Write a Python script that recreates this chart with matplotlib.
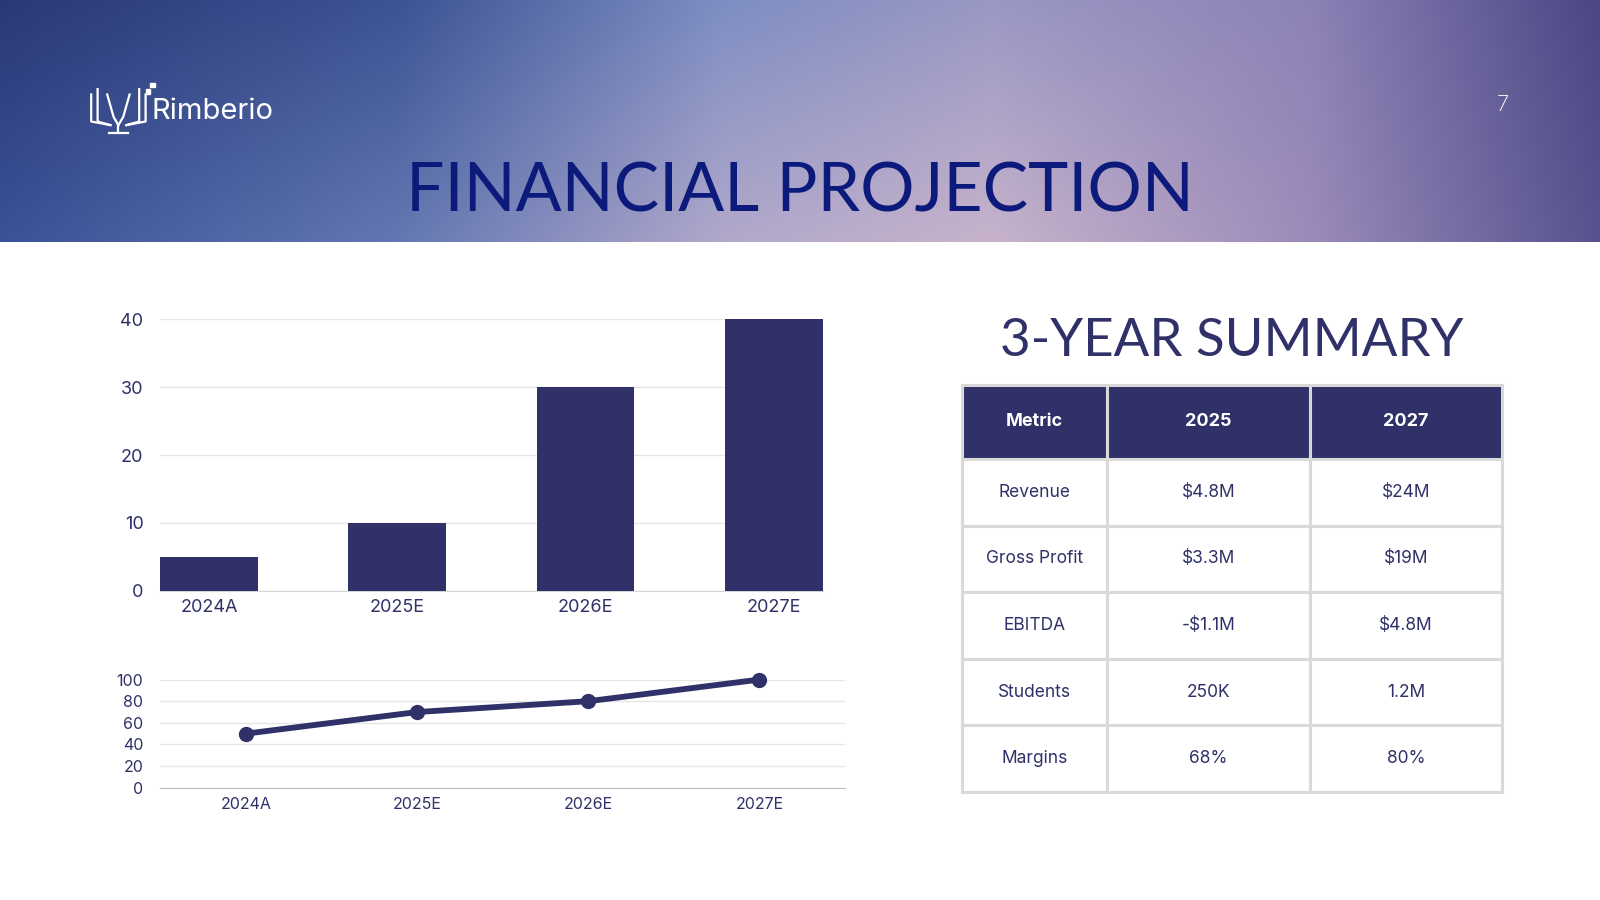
import numpy as np
import matplotlib
matplotlib.use("Agg")
import matplotlib.pyplot as plt
from matplotlib.colors import to_rgb

# data
years_bar = ["2024A", "2025E", "2026E", "2027E"]
bar_values = [5, 10, 30, 40]
years_line = ["2024A", "2025E", "2026E", "2027E"]
line_values = [50, 70, 80, 100]

table_header = ["Metric", "2025", "2027"]
table_metrics = ["Revenue", "Gross Profit", "EBITDA", "Students", "Margins"]
table_2025 = ["$4.8M", "$3.3M", "-$1.1M", "250K", "68%"]
table_2027 = ["$24M", "$19M", "$4.8M", "1.2M", "80%"]

NAVY = "#2f3168"
TITLE_BLUE = "#0c1a7c"
GRID = "#e6e6e6"
FONT = ["Inter", "DejaVu Sans"]

plt.rcParams["font.family"] = FONT

fig = plt.figure(figsize=(16, 9), dpi=100)
fig.patch.set_facecolor("white")

# header gradient band
top_stops = [(0.0, "#2a3877"), (0.25, "#3d5394"), (0.45, "#7d8ec2"),
             (0.62, "#9a98c4"), (0.82, "#8d82b6"), (1.0, "#4a4784")]
bot_stops = [(0.0, "#3a5298"), (0.25, "#6378b2"), (0.45, "#b1a8cb"),
             (0.62, "#c7b3cb"), (0.82, "#9b8bba"), (1.0, "#57538e")]


def row_colors(stops, n):
    xs = np.linspace(0, 1, n)
    px = [s[0] for s in stops]
    cols = np.array([to_rgb(s[1]) for s in stops])
    return np.stack([np.interp(xs, px, cols[:, c]) for c in range(3)], axis=1)


nx, ny = 400, 60
top = row_colors(top_stops, nx)
bot = row_colors(bot_stops, nx)
t = np.linspace(0, 1, ny)[:, None, None]
grad = top[None, :, :] * (1 - t) + bot[None, :, :] * t

ax_bg = fig.add_axes([0, 0.7313, 1, 0.2687])
ax_bg.imshow(grad, aspect="auto", interpolation="bicubic", extent=[0, 1, 0, 1])
ax_bg.set_xlim(0, 1)
ax_bg.set_ylim(0, 1)
ax_bg.axis("off")

# logo (simple open-book glyph)
lx, ly = 0.057, 0.865
lc = "white"


def logo_line(xs, ys):
    fig.lines.append(plt.Line2D([lx + v for v in xs], [ly + v for v in ys],
                                transform=fig.transFigure, color=lc, lw=1.6))


logo_line([0.0, 0.0, 0.012], [0.030, 0.0, -0.004])
logo_line([0.004, 0.004, 0.012], [0.036, 0.0, -0.004])
logo_line([0.010, 0.014, 0.017], [0.030, 0.005, -0.004])
logo_line([0.024, 0.020, 0.017], [0.030, 0.005, -0.004])
logo_line([0.034, 0.034, 0.022], [0.030, 0.0, -0.004])
logo_line([0.030, 0.030, 0.022], [0.036, 0.0, -0.004])
logo_line([0.017, 0.017], [-0.004, -0.012])
logo_line([0.011, 0.023], [-0.013, -0.013])
fig.patches.append(plt.Rectangle((lx + 0.037, ly + 0.038), 0.003, 0.005,
                                 transform=fig.transFigure, color=lc))
fig.patches.append(plt.Rectangle((lx + 0.034, ly + 0.031), 0.003, 0.005,
                                 transform=fig.transFigure, color=lc))

fig.text(0.095, 0.876, "Rimberio", color="white", fontsize=21, va="center", ha="left")
fig.text(0.939, 0.883, "7", color="white", fontsize=16, va="center", ha="center",
         fontweight="light")

fig.text(0.5, 0.786, "FINANCIAL PROJECTION", color=TITLE_BLUE, fontsize=49,
         va="center", ha="center", family=["Lato", "DejaVu Sans"])

# bar chart
ax1 = fig.add_axes([0.1001, 0.3435, 0.414, 0.3016])
x = np.arange(len(years_bar))
ax1.bar(x, bar_values, width=0.52, color=NAVY, zorder=3)
ax1.set_xlim(-0.26, len(years_bar) - 1 + 0.26)
ax1.set_ylim(0, 40)
ax1.set_yticks([0, 10, 20, 30, 40])
ax1.set_xticks(x)
ax1.set_xticklabels(years_bar)
ax1.yaxis.grid(True, color=GRID, lw=1, zorder=0)
for s in ["top", "right", "left"]:
    ax1.spines[s].set_visible(False)
ax1.spines["bottom"].set_color("#d5d5d5")
ax1.tick_params(axis="both", length=0, labelsize=13, labelcolor=NAVY)
ax1.tick_params(axis="y", pad=12)
ax1.tick_params(axis="x", pad=6)

# line chart
ax2 = fig.add_axes([0.1001, 0.1247, 0.428, 0.1202])
x2 = np.arange(len(years_line))
ax2.plot(x2, line_values, color=NAVY, lw=4.2, marker="o", markersize=10,
         zorder=3, clip_on=False)
ax2.set_xlim(-0.5, len(years_line) - 0.5)
ax2.set_ylim(0, 100)
ax2.set_yticks([0, 20, 40, 60, 80, 100])
ax2.set_xticks(x2)
ax2.set_xticklabels(years_line)
ax2.yaxis.grid(True, color=GRID, lw=1, zorder=0)
for s in ["top", "right", "left"]:
    ax2.spines[s].set_visible(False)
ax2.spines["bottom"].set_color("#bdbdbd")
ax2.tick_params(axis="both", length=0, labelsize=11.5, labelcolor=NAVY)
ax2.tick_params(axis="y", pad=12)
ax2.tick_params(axis="x", pad=7)

# summary table
fig.text(0.7698, 0.620, "3-YEAR SUMMARY", color=NAVY, fontsize=38, va="center",
         ha="center", family=["Lato", "DejaVu Sans"])

ax3 = fig.add_axes([0.6014, 0.1202, 0.3374, 0.4524])
ax3.axis("off")
cell_text = [[m, a, b] for m, a, b in zip(table_metrics, table_2025, table_2027)]
col_w = [142 / 529, 199 / 529, 188 / 529]
tbl = ax3.table(cellText=cell_text, colLabels=table_header, colWidths=col_w,
                cellLoc="center", bbox=[0, 0, 1, 1])
tbl.auto_set_font_size(False)
for (r, c), cell in tbl.get_celld().items():
    cell.set_edgecolor("#d9d9d9")
    cell.set_linewidth(2.2)
    if r == 0:
        cell.set_height(73)
        cell.set_facecolor(NAVY)
        cell.get_text().set_color("white")
        cell.get_text().set_fontweight("bold")
        cell.get_text().set_fontsize(13)
    else:
        cell.set_height(65.2)
        cell.set_facecolor("white")
        cell.get_text().set_color(NAVY)
        cell.get_text().set_fontsize(12.5)

fig.savefig("out.png", dpi=100, facecolor="white")
